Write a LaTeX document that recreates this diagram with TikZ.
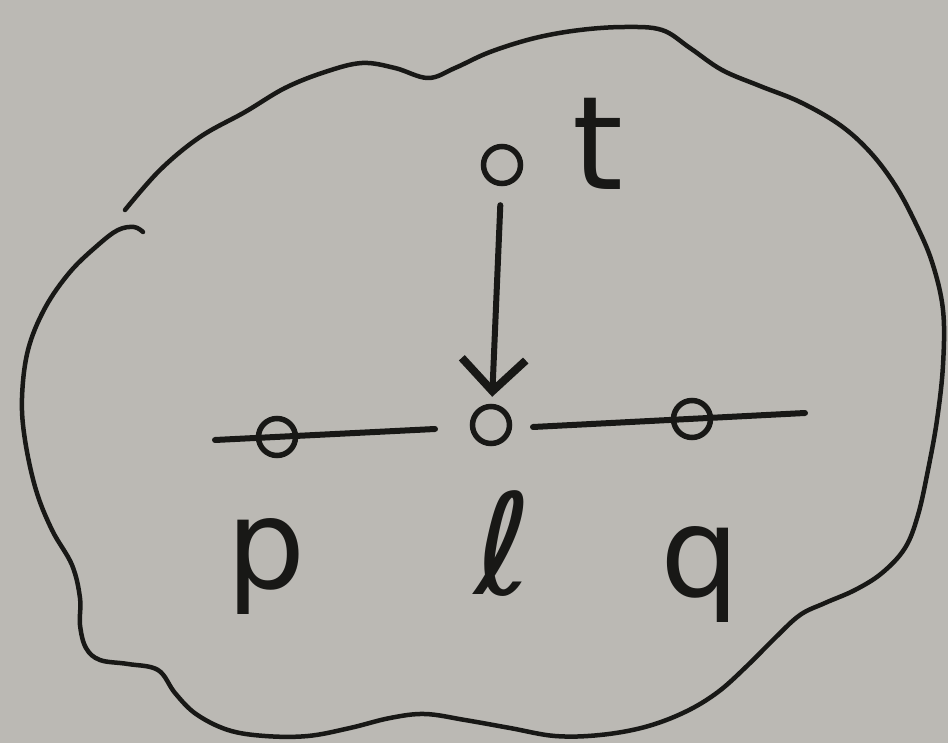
\documentclass[tikz,border=0pt]{standalone}
\usepackage{fontspec}
\setmainfont{DejaVu Sans}
\usetikzlibrary{arrows.meta}
\definecolor{paper}{RGB}{187,185,180}
\definecolor{ink}{RGB}{24,24,22}
\tikzset{
  vtx/.style={circle, draw=ink, line width=5.5pt, minimum size=37pt, inner sep=0pt},
  wire/.style={draw=ink, line width=6pt, line cap=round},
  outline/.style={draw=ink, line width=4.5pt, line cap=round, line join=round},
  arr/.style={draw=ink, line width=6pt, line cap=round,
    -{Straight Barb[length=32pt, width=64pt, line width=8pt]}},
  lbl/.style={text=ink, anchor=base, inner sep=0pt, font=\fontsize{125}{125}\selectfont},
}
\begin{document}
\begin{tikzpicture}[x=1pt, y=-1pt]
\fill[paper] (0,0) rectangle (948,743);
\useasboundingbox (0,0) rectangle (948,743);
% outline of the region (two strokes, with a gap at upper left)
\draw[outline] plot[smooth, tension=0.6] coordinates {
  (125,210) (160,170) (200,137) (245,112) (285,88) (325,72) (362,63) (395,68)
  (428,78) (455,68) (490,52) (535,38) (580,30) (625,27) (662,30) (690,48)
  (722,70) (760,86) (800,102) (840,125) (870,152) (895,185) (915,222)
  (932,262) (943,310) (943,365) (937,420) (928,470) (918,515) (905,548)
  (882,573) (855,590) (825,603) (800,615) (775,638) (748,665) (718,692)
  (685,712) (645,727) (600,735) (555,736) (510,728) (465,720) (425,714)
  (390,718) (350,728) (308,736) (265,736) (228,730) (196,714) (175,693)
  (158,670) (128,664) (100,660) (86,648) (80,625) (80,598) (72,565)
  (52,530) (36,490) (25,440) (22,398) (28,350) (45,308) (70,272)
  (98,245) (118,230) (134,227) (143,232)};
% vertices
\node[vtx] (t) at (502,165) {};
\node[vtx] (l) at (491,425) {};
\node[vtx] (p) at (277,437) {};
\node[vtx] (q) at (692,419) {};
% free ends of the two horizontal strokes
\coordinate (pl) at (215,440);
\coordinate (pr) at (435,429);
\coordinate (ql) at (533,427);
\coordinate (qr) at (805,413);
\draw[wire] (pl) -- (pr);
\draw[wire] (ql) -- (qr);
% arrow from t to l
\draw[arr, shorten <=19pt, shorten >=7pt] (t) -- (l);
% labels
\node[lbl, font=\fontsize{130}{130}\selectfont] (tl) at (598,190) {t};
\node[lbl] (pll) at (266,588) {p};
\node[lbl, font=\fontsize{140}{140}\selectfont] (lll) at (503,594) {ℓ};
\node[lbl] (qll) at (700,596) {q};
\end{tikzpicture}
\end{document}
